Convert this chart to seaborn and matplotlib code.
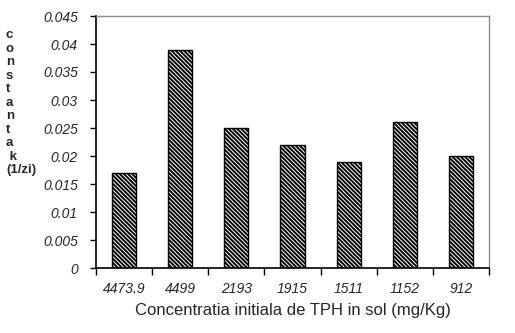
import matplotlib
matplotlib.use("Agg")
import matplotlib.pyplot as plt
import seaborn as sns
import numpy as np
import pandas as pd

# initial TPH concentration in soil (mg/Kg) and the rate constant k (1/zi)
concentratii = ["4473.9", "4499", "2193", "1915", "1511", "1152", "912"]
constanta_k = [0.017, 0.039, 0.025, 0.022, 0.019, 0.026, 0.020]
y_ticks = [0, 0.005, 0.01, 0.015, 0.02, 0.025, 0.03, 0.035, 0.04, 0.045]
y_tick_labels = ["0", "0.005", "0.01", "0.015", "0.02", "0.025", "0.03", "0.035", "0.04", "0.045"]

sns.set_style("white")
plt.rcParams["font.family"] = ["Liberation Sans", "DejaVu Sans"]
plt.rcParams["hatch.linewidth"] = 1.4

df = pd.DataFrame({"conc": concentratii, "k": constanta_k})

fig = plt.figure(figsize=(5.15, 3.33), dpi=100)
ax = fig.add_axes([96 / 515, 1 - 268 / 333, (489 - 96) / 515, (268 - 16) / 333])

sns.barplot(data=df, x="conc", y="k", order=concentratii, color="white",
            edgecolor="black", linewidth=1.0, width=0.43, ax=ax)
for p in ax.patches:
    p.set_hatch("\\" * 8)
    p.set_facecolor("white")

ax.set_xlim(-0.5, len(concentratii) - 0.5)
ax.set_ylim(0, 0.045)
ax.set_yticks(y_ticks)
ax.set_yticklabels(y_tick_labels, fontsize=10, style="italic")
ax.set_xticks(range(len(concentratii)))
ax.set_xticklabels(concentratii, fontsize=10, style="italic")
ax.set_xticks(np.arange(-0.5, len(concentratii) + 0.5, 1), minor=True)

ax.tick_params(axis="y", which="major", direction="out", length=4, width=1,
               color="black", pad=9, left=True)
ax.tick_params(axis="x", which="major", length=0, pad=10)
ax.tick_params(axis="x", which="minor", direction="out", length=5, width=1,
               color="black", bottom=True)

for side in ["left", "bottom"]:
    ax.spines[side].set_color("black")
    ax.spines[side].set_linewidth(1.2)
for side in ["top", "right"]:
    ax.spines[side].set_visible(True)
    ax.spines[side].set_color("#8c8c8c")
    ax.spines[side].set_linewidth(1.0)

ax.set_xlabel("Concentratia initiala de TPH in sol (mg/Kg)", fontsize=12,
              labelpad=5)
ax.set_ylabel("")

fig.text(6 / 515, 1 - 29 / 333, "c\no\nn\ns\nt\na\nn\nt\na\n k\n(1/zi)",
         fontsize=9.5, fontweight="bold", va="top", ha="left",
         linespacing=1.17)

fig.savefig("out.png", dpi=100)
